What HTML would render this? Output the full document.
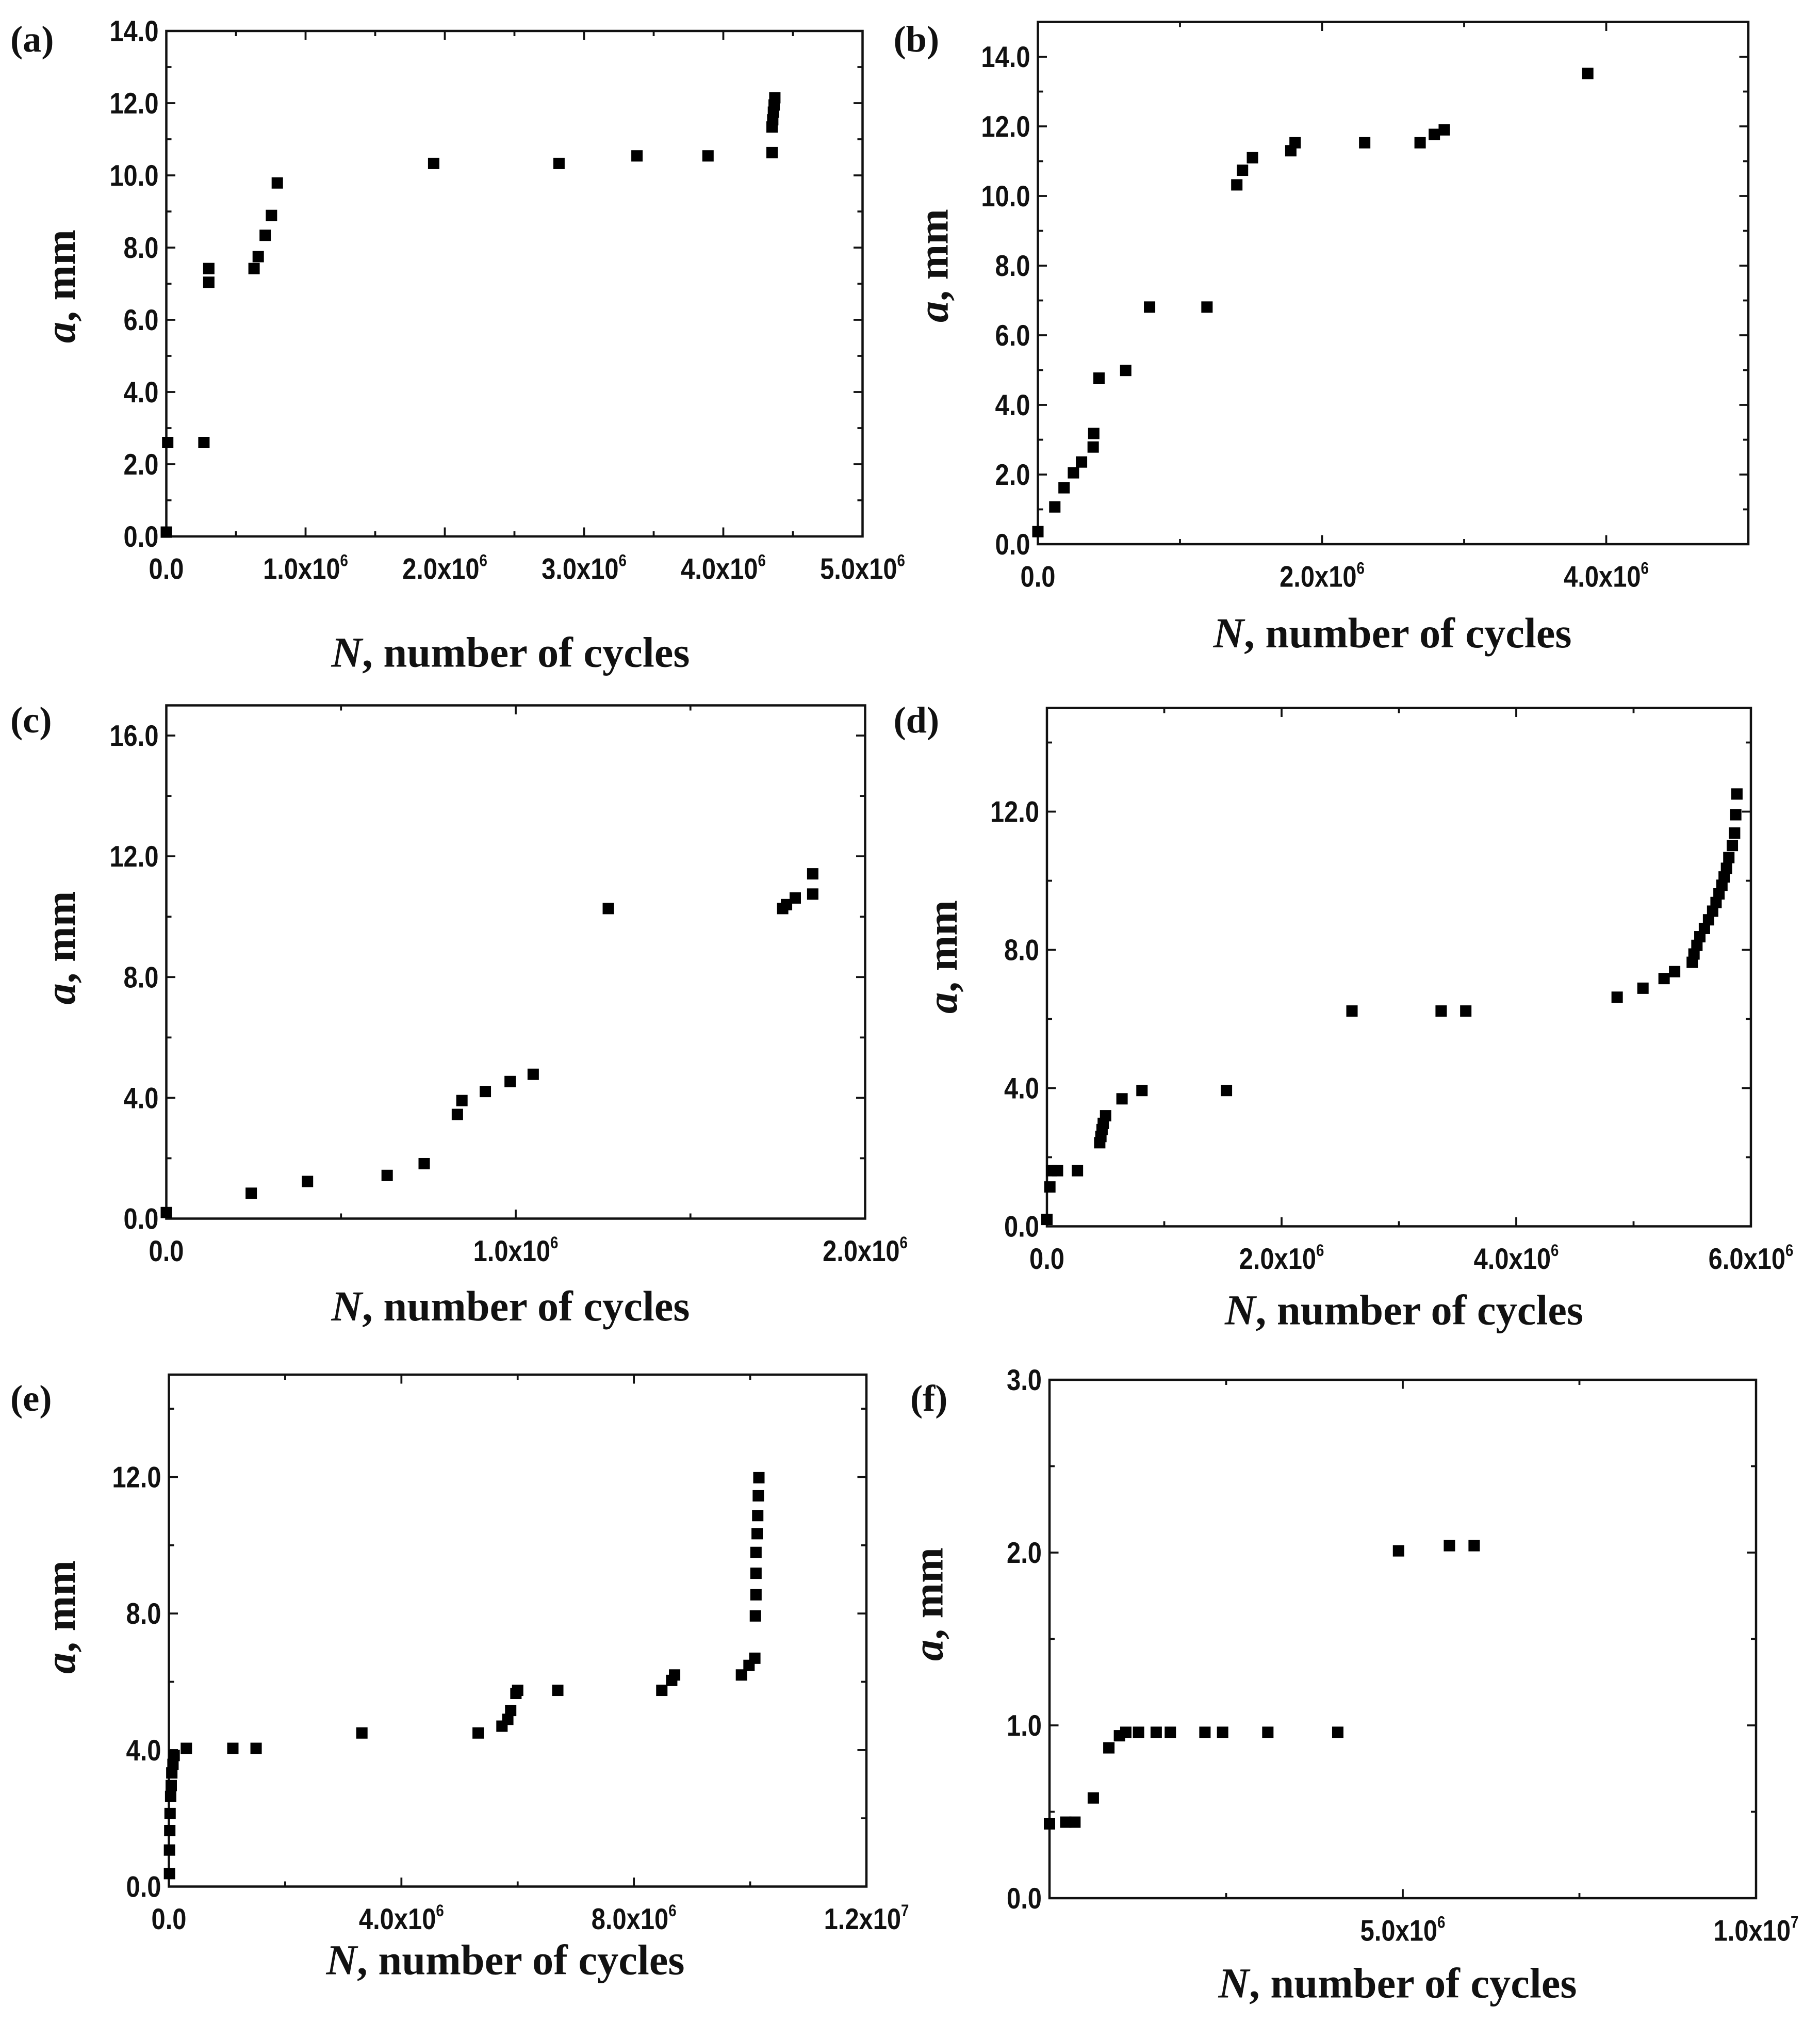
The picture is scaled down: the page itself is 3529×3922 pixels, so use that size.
<!DOCTYPE html>
<html><head><meta charset="utf-8"><style>
html,body{margin:0;padding:0;background:#fff;}
svg{display:block;}
.tk{font-family:"Liberation Sans Narrow","Liberation Sans",sans-serif;font-weight:bold;font-size:23px;fill:#111;}
.ttl{font-family:"Liberation Serif",serif;font-weight:bold;font-size:33px;fill:#111;}
.pl{font-family:"Liberation Serif",serif;font-weight:bold;font-size:29px;fill:#111;}
</style></head><body>
<svg id="fig" width="3529" height="3922" viewBox="0 0 1411.6 1568.8" xmlns="http://www.w3.org/2000/svg"></svg>
<script>
// ---- data (N cycles, a mm) ----
const aN = [1e4,0,2.7e5,3.05e5,3.05e5,6.3e5,6.6e5,7.1e5,7.55e5,7.97e5,1.92e6,2.82e6,3.38e6,3.89e6,4.35e6,4.35e6,4.355e6,4.36e6,4.365e6,4.37e6];
const aA = [2.6,0.12,2.6,7.42,7.04,7.42,7.75,8.34,8.89,9.79,10.33,10.33,10.54,10.54,10.63,11.34,11.54,11.75,11.95,12.15];
const bN = [0,1.19e5,1.84e5,2.5e5,3.07e5,3.89e5,3.93e5,4.3e5,6.18e5,7.86e5,1.19e6,1.4e6,1.44e6,1.51e6,1.78e6,1.81e6,2.3e6,2.69e6,2.79e6,2.86e6,3.87e6];
const bA = [0.36,1.07,1.62,2.05,2.36,2.79,3.18,4.77,4.99,6.81,6.81,10.32,10.74,11.1,11.3,11.53,11.53,11.53,11.77,11.9,13.52];
const cN = [0,2.43e5,4.04e5,6.32e5,7.38e5,8.33e5,8.46e5,9.13e5,9.84e5,1.05e6,1.265e6,1.764e6,1.775e6,1.8e6,1.85e6,1.85e6];
const cA = [0.2,0.84,1.23,1.43,1.82,3.45,3.91,4.21,4.54,4.78,10.27,10.27,10.4,10.62,10.75,11.42];
const dN = [0,0.025e6,0.04e6,0.09e6,0.26e6,0.45e6,0.46e6,0.47e6,0.48e6,0.5e6,0.64e6,0.81e6,1.53e6,2.6e6,3.36e6,3.57e6,4.86e6,5.08e6,5.26e6,5.35e6,5.5e6,5.515e6,5.54e6,5.565e6,5.604e6,5.639e6,5.674e6,5.703e6,5.728e6,5.753e6,5.772e6,5.792e6,5.812e6,5.842e6,5.861e6,5.871e6,5.881e6];
const dA = [0.2,1.14,1.61,1.61,1.61,2.42,2.6,2.8,2.98,3.2,3.69,3.93,3.93,6.23,6.23,6.23,6.63,6.89,7.17,7.37,7.64,7.88,8.13,8.38,8.62,8.87,9.12,9.37,9.62,9.87,10.11,10.36,10.67,11.02,11.38,11.91,12.51];
const eN = [1e4,1e4,1.5e4,2e4,3e4,4e4,5e4,7e4,9e4,3.0e5,1.1e6,1.5e6,3.32e6,5.32e6,5.73e6,5.83e6,5.88e6,5.97e6,6.0e6,6.69e6,8.48e6,8.65e6,8.7e6,9.85e6,9.98e6,10.08e6,10.09e6,10.1e6,10.1e6,10.1e6,10.12e6,10.13e6,10.14e6,10.15e6];
const eA = [0.38,1.07,1.64,2.14,2.64,2.96,3.33,3.58,3.84,4.05,4.05,4.05,4.5,4.5,4.7,4.9,5.16,5.66,5.75,5.75,5.75,6.04,6.2,6.2,6.48,6.69,7.93,8.55,9.18,9.79,10.34,10.87,11.45,11.98];
const fN = [0,2.3e5,3.6e5,6.2e5,8.4e5,9.9e5,1.08e6,1.26e6,1.51e6,1.71e6,2.2e6,2.45e6,3.09e6,4.08e6,4.94e6,5.66e6,6.01e6];
const fA = [0.43,0.44,0.44,0.58,0.87,0.94,0.96,0.96,0.96,0.96,0.96,0.96,0.96,0.96,2.01,2.04,2.04];
// tick values / labels
const aXTicks=[0,1e6,2e6,3e6,4e6,5e6]; const aXLab=["0.0","1.0x10","2.0x10","3.0x10","4.0x10","5.0x10"]; const aXExp=["","6","6","6","6","6"];
const aYTicks=[0,2,4,6,8,10,12,14]; const aYLab=["0.0","2.0","4.0","6.0","8.0","10.0","12.0","14.0"];
const bXTicks=[0,2e6,4e6]; const bXLab=["0.0","2.0x10","4.0x10"]; const bXExp=["","6","6"];
const bYTicks=[0,2,4,6,8,10,12,14]; const bYLab=["0.0","2.0","4.0","6.0","8.0","10.0","12.0","14.0"];
const cXTicks=[0,1e6,2e6]; const cXLab=["0.0","1.0x10","2.0x10"]; const cXExp=["","6","6"];
const cYTicks=[0,4,8,12,16]; const cYLab=["0.0","4.0","8.0","12.0","16.0"];
const dXTicks=[0,2e6,4e6,6e6]; const dXLab=["0.0","2.0x10","4.0x10","6.0x10"]; const dXExp=["","6","6","6"];
const dYTicks=[0,4,8,12]; const dYLab=["0.0","4.0","8.0","12.0"];
const eXTicks=[0,4e6,8e6,1.2e7]; const eXLab=["0.0","4.0x10","8.0x10","1.2x10"]; const eXExp=["","6","6","7"];
const eYTicks=[0,4,8,12]; const eYLab=["0.0","4.0","8.0","12.0"];
const fXTicks=[5e6,1e7]; const fXLab=["5.0x10","1.0x10"]; const fXExp=["6","7"];
const fYTicks=[0,1,2,3]; const fYLab=["0.0","1.0","2.0","3.0"];

const NS="http://www.w3.org/2000/svg";
const svg=document.getElementById('fig');
function mk(tag,attrs,parent){const e=document.createElementNS(NS,tag);for(const k in attrs)e.setAttribute(k,attrs[k]);(parent||svg).appendChild(e);return e;}

const panels=[
 {id:'a',L:129,R:669,T:24,B:416,xmax:5e6,ymax:14,xminor:5e5,yminor:1,N:aN,A:aA,xt:aXTicks,xl:aXLab,xe:aXExp,yt:aYTicks,yl:aYLab,lab:[8,40],xtc:[396,517],ytc:[47,222]},
 {id:'b',L:805,R:1356,T:17,B:422,xmax:5e6,ymax:15,xminor:1e6,yminor:1,N:bN,A:bA,xt:bXTicks,xl:bXLab,xe:bXExp,yt:bYTicks,yl:bYLab,lab:[693,40],xtc:[1080,502],ytc:[724,206]},
 {id:'c',L:129,R:671,T:547,B:945,xmax:2e6,ymax:17,xminor:5e5,yminor:2,N:cN,A:cA,xt:cXTicks,xl:cXLab,xe:cXExp,yt:cYTicks,yl:cYLab,lab:[8,568],xtc:[396,1024],ytc:[47,735]},
 {id:'d',L:812,R:1358,T:549,B:951,xmax:6e6,ymax:15,xminor:1e6,yminor:2,N:dN,A:dA,xt:dXTicks,xl:dXLab,xe:dXExp,yt:dYTicks,yl:dYLab,lab:[693,568],xtc:[1089,1027],ytc:[731,742]},
 {id:'e',L:131,R:672,T:1066,B:1463,xmax:1.2e7,ymax:15,xminor:2e6,yminor:2,N:eN,A:eA,xt:eXTicks,xl:eXLab,xe:eXExp,yt:eYTicks,yl:eYLab,lab:[8,1094],xtc:[392,1531],ytc:[47,1254]},
 {id:'f',L:814,R:1362,T:1070,B:1472,xmax:1e7,ymax:3,xminor:2.5e6,yminor:0.5,N:fN,A:fA,xt:fXTicks,xl:fXLab,xe:fXExp,yt:fYTicks,yl:fYLab,lab:[706,1094],xtc:[1084,1549],ytc:[720,1244]}
];

panels.forEach(p=>{
  const g=mk('g',{});
  
  
  const sx=v=>p.L+(v/p.xmax)*(p.R-p.L);
  const sy=v=>p.B-(v/p.ymax)*(p.B-p.T);
  const fr=mk('rect',{x:p.L,y:p.T,width:p.R-p.L,height:p.B-p.T,fill:'none',stroke:'#111','stroke-width':1.8},g);
  
  
  let d='';
  for(let v=0;v<=p.xmax+1e-6;v+=p.xminor){const x=sx(v);const maj=p.xt.some(t=>Math.abs(t-v)<1)|| Math.abs(v%(p.xminor*2))<1;const len=maj?7:4;d+=`M${x} ${p.B}V${p.B-len}M${x} ${p.T}V${p.T+len}`;}
  for(let v=0;v<=p.ymax+1e-6;v+=p.yminor){const y=sy(v);const maj=p.yt.some(t=>Math.abs(t-v)<1e-6);const len=maj?7:4;d+=`M${p.L} ${y}H${p.L+len}M${p.R} ${y}H${p.R-len}`;}
  const tp=mk('path',{d:d,stroke:'#111','stroke-width':1.5,fill:'none'},g);
  
  
  p.xt.forEach((v,i)=>{
    const t=mk('text',{x:0,y:0,'text-anchor':'middle',class:'tk',transform:`translate(${sx(v)},${p.B+33}) scale(0.85,1)`},g);
    
    
    t.textContent=p.xl[i];
    if(p.xe[i]){const s=mk('tspan',{dy:-10,'font-size':13},t);s.textContent=p.xe[i];}
  });
  p.yt.forEach((v,i)=>{
    const t=mk('text',{x:0,y:0,'text-anchor':'end',class:'tk',transform:`translate(${p.L-6},${sy(v)+8}) scale(0.85,1)`},g);
    
    
    t.textContent=p.yl[i];
  });
  p.N.forEach((n,i)=>{
    const r=mk('rect',{x:sx(n)-4.4,y:sy(p.A[i])-4.4,width:8.8,height:8.8,fill:'#000'},g);
    
    
  });
  const xt=mk('text',{x:p.xtc[0],y:p.xtc[1],'text-anchor':'middle',class:'ttl'},g);
  
  
  const it=mk('tspan',{'font-style':'italic'},xt);it.textContent='N';
  const rt=mk('tspan',{},xt);rt.textContent=', number of cycles';
  const yt=mk('text',{x:0,y:0,'text-anchor':'middle',class:'ttl',transform:`translate(${p.ytc[0]+11},${p.ytc[1]}) rotate(-90)`},g);
  
  
  const ia=mk('tspan',{'font-style':'italic'},yt);ia.textContent='a';
  const ra=mk('tspan',{},yt);ra.textContent=', mm';
  const pl=mk('text',{x:p.lab[0],y:p.lab[1],class:'pl'},g);
  
  
  pl.textContent='('+p.id+')';
});
</script>
</body></html>
